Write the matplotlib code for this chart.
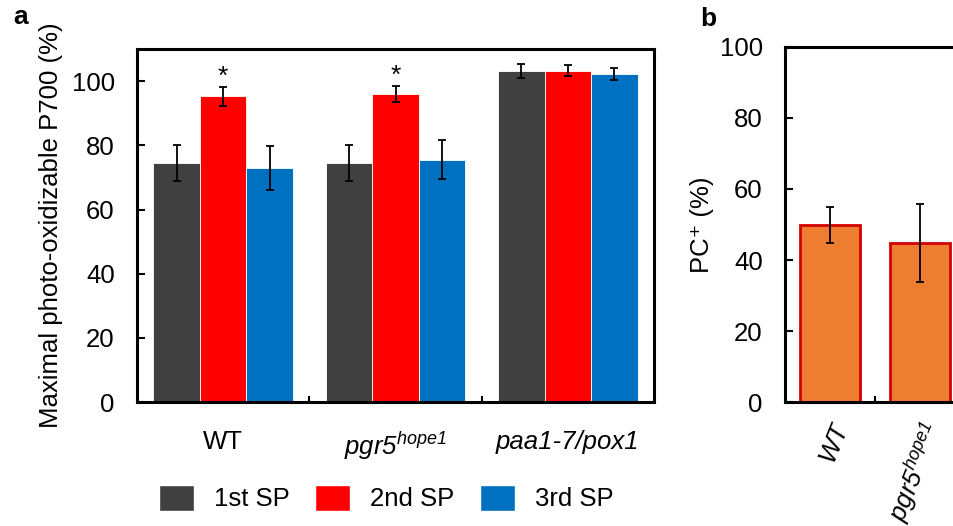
import numpy as np
import matplotlib
matplotlib.use('Agg')
import matplotlib.pyplot as plt
from matplotlib.patches import Patch

plt.rcParams['font.family'] = ['Liberation Sans', 'DejaVu Sans']
plt.rcParams['mathtext.fontset'] = 'custom'
plt.rcParams['mathtext.rm'] = 'Liberation Sans:italic'
plt.rcParams['mathtext.it'] = 'Liberation Sans:italic'

# panel a
genotypes = ['WT', r'$\mathit{pgr5}^{\mathit{hope1}}$', 'paa1-7/pox1']
series = ['1st SP', '2nd SP', '3rd SP']
sp1 = [74.5, 74.5, 103.1]
sp2 = [95.3, 96.0, 103.3]
sp3 = [72.9, 75.5, 102.2]
sp1_err = [5.5, 5.5, 2.2]
sp2_err = [2.9, 2.5, 1.6]
sp3_err = [6.8, 6.1, 1.9]
star = [True, True, False]
colors = ['#404040', '#ff0000', '#0070c0']

# panel b
pc_labels = ['WT', r'$\mathit{pgr5}^{\mathit{hope1}}$']
pc_vals = [49.9, 44.7]
pc_err = [5.0, 11.0]

FS = 18.5

fig = plt.figure(figsize=(9.54, 5.26), dpi=100)

ax = fig.add_axes([0.1436, 0.2357, 0.542, 0.671])
x = np.arange(len(genotypes))
w = 0.27
vals = [sp1, sp2, sp3]
errs = [sp1_err, sp2_err, sp3_err]
for i in range(3):
    ax.bar(x + (i - 1) * w, vals[i], w, color=colors[i], edgecolor='white', linewidth=0.6,
           yerr=errs[i], capsize=3, error_kw=dict(elinewidth=1.3, capthick=1.3, ecolor='black'))
for k in range(len(genotypes)):
    if star[k]:
        ax.text(x[k], sp2[k] + sp2_err[k] + 3.0, '*', ha='center', va='center', fontsize=19)

ax.set_xlim(-0.5, 2.5)
ax.set_ylim(0, 110)
ax.set_yticks([0, 20, 40, 60, 80, 100])
ax.set_xticks(x)
ax.set_xticklabels(genotypes, fontsize=FS)
ax.get_xticklabels()[2].set_fontstyle('italic')
ax.set_xticks([0.5, 1.5], minor=True)
ax.tick_params(axis='x', which='major', length=0, pad=20)
ax.tick_params(axis='x', which='minor', direction='in', length=4, width=1.5)
ax.tick_params(axis='y', direction='in', length=6, width=1.5, labelsize=FS, pad=16)
for s in ax.spines.values():
    s.set_linewidth(2.2)
ax.set_ylabel('Maximal photo-oxidizable P700 (%)', fontsize=FS, labelpad=6)

handles = [Patch(facecolor=colors[i], edgecolor='white', label=series[i]) for i in range(3)]
fig.legend(handles=handles, loc='center', bbox_to_anchor=(0.405, 0.053), ncol=3, frameon=False,
           fontsize=FS, handlelength=1.36, handleheight=1.17, handletextpad=0.78, columnspacing=1.0)

fig.text(0.014, 0.955, 'a', fontsize=19, fontweight='bold')

# panel b
bx = fig.add_axes([0.8229, 0.2357, 0.283, 0.675])
xb = np.arange(len(pc_labels))
bx.bar(xb, pc_vals, 0.67, color='#ed7d31', edgecolor='#d40000', linewidth=2,
       yerr=pc_err, capsize=3, error_kw=dict(elinewidth=1.3, capthick=1.3, ecolor='black'))
bx.set_xlim(-0.5, 2.5)
bx.set_ylim(0, 100)
bx.set_yticks([0, 20, 40, 60, 80, 100])
bx.set_xticks(xb)
bx.set_xticklabels(pc_labels, fontsize=FS, rotation=68, ha='right', rotation_mode='anchor',
                   fontstyle='italic')
bx.set_xticks([0.5], minor=True)
bx.tick_params(axis='x', which='major', length=0, pad=12)
bx.tick_params(axis='x', which='minor', direction='in', length=4, width=1.5)
bx.tick_params(axis='y', direction='in', length=6, width=1.5, labelsize=FS, pad=16)
for s in bx.spines.values():
    s.set_linewidth(2.2)
bx.set_ylabel('PC\u207a (%)', fontsize=FS, labelpad=4)
fig.text(0.734, 0.95, 'b', fontsize=19, fontweight='bold')

fig.savefig('out.png', dpi=100)
